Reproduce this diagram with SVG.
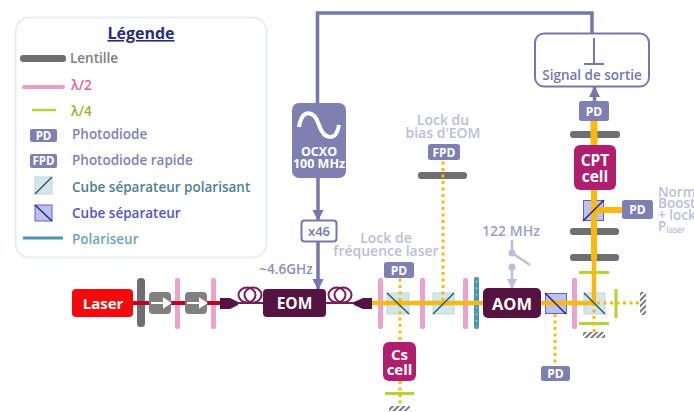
<svg xmlns="http://www.w3.org/2000/svg" width="694" height="412" viewBox="0 0 694 412">
<defs>
<style>
text{font-family:"Open Sans","Liberation Sans",sans-serif;font-weight:600}
.w{fill:#fff;text-anchor:middle;font-weight:700}
.g{fill:#bcbdd8;text-anchor:middle;font-size:14px}
.lg{font-size:13.500px}
.lens{fill:#6f6f6f}
.hw{fill:#e9a3cc}
.qw{stroke:#b5d334;stroke-width:3;fill:none}
.pd{fill:#7f80b2}
.dot{stroke:#f8b910;stroke-width:3;stroke-dasharray:3 3.500;fill:none}
.red{stroke:#c00020;stroke-width:4;fill:none}
.link{stroke:#7677ad;stroke-width:3.500;fill:none}
.pbs{fill:#d3e6ea;stroke:#bcd6dc}
.bs{fill:#bfc1ea;stroke:#5f62c4}
.diag{stroke:#2c5c70;stroke-width:1.500;fill:none}
.diagB{stroke:#232a80;stroke-width:1.500;fill:none}
.coil{stroke:#7a1c55;stroke-width:2;fill:none}
.dark{fill:#541340}
.cell{fill:#b01e6e}
</style>
<marker id="a" viewBox="0 0 10 10" refX="9" refY="5" markerWidth="3.200" markerHeight="3.200" orient="auto"><path d="M0 0L10 5L0 10Z" fill="#7677ad"/></marker>
<marker id="b" viewBox="0 0 10 10" refX="9" refY="5" markerWidth="4" markerHeight="4" orient="auto"><path d="M0 0L10 5L0 10Z" fill="#bcbdd8"/></marker>
<pattern id="h" width="4" height="4" patternUnits="userSpaceOnUse" patternTransform="rotate(45)"><rect width="4" height="4" fill="#fff"/><rect width="2" height="4" fill="#77778f"/></pattern>
</defs>

<g id="legend">
<rect x="15.500" y="17.500" width="251" height="240" rx="14" fill="#fff" stroke="#e6eef1" stroke-width="2"/>
<text x="141" y="39" text-anchor="middle" font-size="16" style="font-weight:700" fill="#2c2c78" text-decoration="underline">Légende</text>
<rect x="20" y="55" width="46" height="7" rx="3" class="lens"/>
<text x="70" y="63" class="lg" fill="#7c7c7c">Lentille</text>
<rect x="22" y="85" width="43" height="4" rx="2" fill="#ec9cc6"/>
<text x="71" y="90" class="lg" fill="#df5fa0">λ/2</text>
<path d="M32 110H56" stroke="#b5d334" stroke-width="2.500"/>
<text x="71" y="116" class="lg" fill="#a4ad33">λ/4</text>
<rect x="30" y="129" width="27" height="13" rx="2" class="pd"/>
<text x="43.500" y="140" class="w" font-size="11.500">PD</text>
<text x="72" y="139" class="lg" fill="#8182b5">Photodiode</text>
<rect x="30" y="154" width="27" height="14" rx="2" class="pd"/>
<text x="43.500" y="165" class="w" font-size="11.500">FPD</text>
<text x="72" y="165" class="lg" fill="#8182b5">Photodiode rapide</text>
<rect x="35" y="177" width="17" height="17" class="pbs"/><path d="M35 194L52 177" class="diag"/>
<text x="72" y="192" class="lg" fill="#4f8090">Cube séparateur polarisant</text>
<rect x="35" y="205" width="17" height="16" class="bs"/><path d="M35 205L52 221" class="diagB"/>
<text x="72" y="218" class="lg" fill="#5355c0">Cube séparateur</text>
<path d="M23 238H63" stroke="#4b97b2" stroke-width="3"/>
<text x="72" y="244" class="lg" fill="#6ea4b8">Polariseur</text>
</g>

<g id="optics">
<g id="lens1"><rect x="137" y="278" width="8" height="49" rx="3.500" class="lens"/></g>
<g id="hw1"><rect x="175" y="278" width="5" height="51" rx="2" class="hw"/></g>
<g id="hw2"><rect x="211" y="278" width="5" height="51" rx="2" class="hw"/></g>
<g id="hw3"><rect x="378" y="278" width="5" height="51" rx="2" class="hw"/></g>
<g id="pbs1"><rect x="387" y="293" width="22" height="21" class="pbs"/></g>
<g id="hw4"><rect x="420" y="278" width="5" height="51" rx="2" class="hw"/></g>
<g id="pbs2"><rect x="433" y="293" width="21" height="21" class="pbs"/></g>
<g id="lens2"><rect x="418" y="172" width="49" height="7" rx="3" class="lens"/></g>
<g id="hw5"><rect x="463" y="278" width="5" height="51" rx="2" class="hw"/></g>
<g id="polarizer"><rect x="474" y="277" width="5" height="52" rx="2" fill="#4b97b2"/></g>
<g id="bs1"><rect x="545.500" y="293.500" width="21" height="20" class="bs"/></g>
<g id="hw6"><rect x="572" y="278" width="5" height="51" rx="2" class="hw"/></g>
<g id="pbs3"><rect x="584" y="293" width="21" height="21" class="pbs"/></g>
<g id="lens3"><rect x="570" y="254" width="49" height="7" rx="3" class="lens"/></g>
<g id="lens4"><rect x="570" y="228" width="49" height="7" rx="3" class="lens"/></g>
<g id="bs2"><rect x="583.500" y="200.500" width="20" height="20" class="bs"/></g>
<g id="lens5"><rect x="570" y="131" width="50" height="7" rx="3" class="lens"/></g>
<path d="M385 393.500H414M579 272.500H609M579 323.500H609M616 289V318" class="qw"/>
<rect x="389" y="406" width="21" height="5" fill="url(#h)"/>
<rect x="583" y="332" width="22" height="6" fill="url(#h)"/>
<rect x="640" y="292" width="6" height="23" fill="url(#h)"/>
</g>

<g id="connectors">
<path d="M133 303H220" class="red"/>
<path d="M372 303H483M541 303H596" stroke="#f8b910" stroke-width="4.500" fill="none"/>
<path d="M594 121V190" stroke="#f8b910" stroke-width="7" fill="none"/>
<path d="M594 190V260" stroke="#f8b910" stroke-width="6" fill="none"/>
<path d="M594 260V303" stroke="#f8b910" stroke-width="4.500" fill="none"/>
<path d="M594 210H622" stroke="#f8b910" stroke-width="6" fill="none"/>
<path d="M400 272V342M400 381V406M443 155V303M555 314V366M594 303V332M597 303H640" class="dot"/>
<path d="M592 33V13H317.500V103" class="link" stroke-width="3"/>
<path d="M318 178V220" class="link" marker-end="url(#a)"/>
<path d="M318 242V289" class="link" marker-end="url(#a)"/>
<path d="M594.500 101V87" class="link" marker-end="url(#a)"/>
<path d="M512 240V253L530 265" stroke="#bcbdd8" stroke-width="2.500" fill="none"/>
<path d="M512 267V288" stroke="#bcbdd8" stroke-width="2.500" fill="none" marker-end="url(#b)"/>
<circle cx="512" cy="253" r="3.500" fill="#bcbdd8"/><circle cx="512" cy="267" r="3.500" fill="#bcbdd8"/>
<path d="M594 38V64M584 64H604" stroke="#7677ad" stroke-width="2" fill="none"/>
</g>

<g id="cube-diagonals">
<path d="M387 293L409 314M433 314L454 293M584 293L605 314" class="diag"/>
<path d="M545 293L566 314M583 221L604 200" class="diagB"/>
<path d="M476.500 281V327" stroke="#bfe0ea" stroke-width="1.200" stroke-dasharray="1.500 5" fill="none"/>
</g>

<g id="laser"><rect x="72" y="289" width="61" height="28" rx="4" fill="#f40a0a"/><text x="103" y="308.500" class="w" font-size="15">Laser</text></g>
<g id="isolator1"><rect x="149" y="292" width="22" height="22" rx="4" fill="#808080"/><path d="M151 303H164M164 299L170 303L164 307Z" stroke="#fff" stroke-width="2" fill="#fff"/></g>
<g id="isolator2"><rect x="185" y="292" width="22" height="22" rx="4" fill="#808080"/><path d="M187 303H200M200 299L206 303L200 307Z" stroke="#fff" stroke-width="2" fill="#fff"/></g>
<g id="fiber1">
<path d="M220 298H230L238 302V305L230 309H220Z" class="dark"/>
<ellipse cx="247" cy="295" rx="8.500" ry="7.500" class="coil"/><ellipse cx="253" cy="295" rx="8.500" ry="7.500" class="coil"/>
<path d="M238 303H264" class="coil"/>
</g>
<g id="eom"><rect x="263" y="289" width="63" height="28" rx="4" class="dark"/><text x="294.500" y="309" class="w" font-size="15.500">EOM</text></g>
<g id="fiber2">
<ellipse cx="337" cy="295" rx="8.500" ry="7.500" class="coil"/><ellipse cx="343" cy="295" rx="8.500" ry="7.500" class="coil"/>
<path d="M326 303H354" class="coil"/>
<path d="M372 298H363L354 302V305L363 309H372Z" class="dark"/>
</g>
<text x="286" y="274" text-anchor="middle" font-size="13.500" fill="#8d8ebb">~4.6GHz</text>

<g id="ocxo"><rect x="292" y="103" width="54" height="75" rx="7" class="pd"/>
<path d="M299 127C302 108 314 110 319 125C324 140 336 142 339 125" stroke="#fff" stroke-width="4" fill="none"/>
<text class="w" font-size="12.500"><tspan x="319" y="156">OCXO</tspan><tspan x="319" y="168">100 MHz</tspan></text></g>
<g id="x46"><rect x="301.500" y="220.500" width="35" height="21" rx="3" fill="#fff" stroke="#7677ad" stroke-width="2"/><text x="319" y="236" text-anchor="middle" font-size="13" fill="#7677ad">x46</text></g>

<text class="g"><tspan x="386" y="243">Lock de</tspan><tspan x="386" y="256">fréquence laser</tspan></text>
<text class="g"><tspan x="443" y="125">Lock du</tspan><tspan x="443" y="138">bias d'EOM</tspan></text>
<text x="511" y="236" class="g" style="fill:#9d9ec6">122 MHz</text>

<g id="pd1"><rect x="384" y="262" width="30" height="16" rx="2.500" class="pd"/><text x="399" y="275" class="w" font-size="12">PD</text></g>
<g id="fpd"><rect x="428" y="144" width="32" height="16" rx="2.500" class="pd"/><text x="444" y="157" class="w" font-size="12">FPD</text></g>
<g id="aom"><rect x="483" y="288" width="58" height="30" rx="5" class="dark"/><text x="512" y="310" class="w" font-size="16.500">AOM</text></g>
<g id="pd2"><rect x="541" y="366" width="29" height="15" rx="2.500" class="pd"/><text x="555.500" y="378" class="w" font-size="12">PD</text></g>
<g id="cscell"><rect x="383" y="342" width="33" height="39" rx="6" class="cell"/><text class="w" font-size="15"><tspan x="399.500" y="360">Cs</tspan><tspan x="399.500" y="375">cell</tspan></text></g>
<g id="cptcell"><rect x="574" y="145" width="42" height="45" rx="6" class="cell"/><text class="w" font-size="15.500"><tspan x="595" y="166">CPT</tspan><tspan x="595" y="182">cell</tspan></text></g>
<g id="pd3"><rect x="579" y="101" width="30" height="20" rx="2.500" class="pd"/><text x="594" y="116" class="w" font-size="12">PD</text></g>
<g id="pd4"><rect x="622" y="200" width="31" height="19" rx="2.500" class="pd"/><text x="637.500" y="214" class="w" font-size="12">PD</text></g>
<g id="signal"><rect x="535" y="33.500" width="114" height="53" rx="9" fill="none" stroke="#7677ad" stroke-width="2"/><text x="592" y="80" text-anchor="middle" font-size="13.500" fill="#7677ad">Signal de sortie</text></g>
<text fill="#bcbdd8" font-size="13.500"><tspan x="658" y="197">Norm</tspan><tspan x="658" y="208">Boost</tspan><tspan x="658" y="220">+ lock</tspan><tspan x="658" y="231">P<tspan font-size="8" dy="2">laser</tspan></tspan></text>
</svg>
